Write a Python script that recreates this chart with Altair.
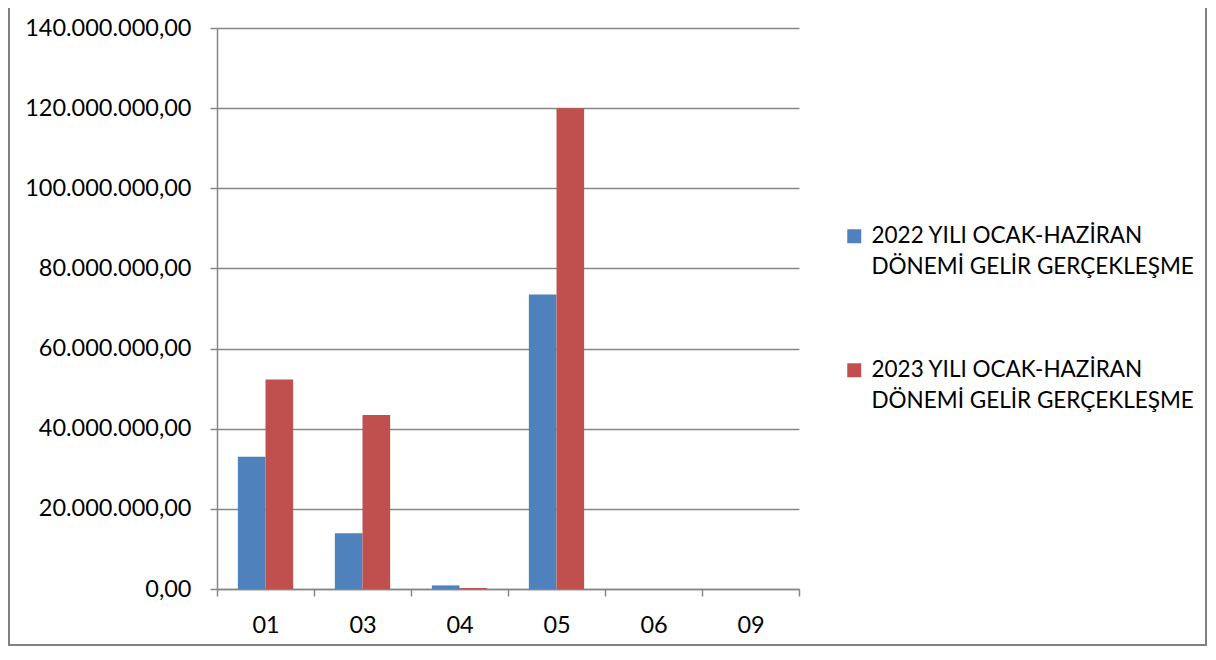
import altair as alt
import pandas as pd

categories = ["01", "03", "04", "05", "06", "09"]
series = ["2022 YILI OCAK-HAZİRAN|DÖNEMİ GELİR GERÇEKLEŞME",
          "2023 YILI OCAK-HAZİRAN|DÖNEMİ GELİR GERÇEKLEŞME"]
values_2022 = [33000000, 13900000, 900000, 73500000, 0, 0]
values_2023 = [52300000, 43400000, 250000, 120000000, 0, 0]
y_ticks = [0, 20000000, 40000000, 60000000, 80000000, 100000000, 120000000, 140000000]
colors = ["#4F81BD", "#C0504D"]

rows = []
for c, v1, v2 in zip(categories, values_2022, values_2023):
    rows.append({"kod": c, "seri": series[0], "deger": v1})
    rows.append({"kod": c, "seri": series[1], "deger": v2})
df = pd.DataFrame(rows)

FONT = "Lato"
GRAY = "#868686"

bars = alt.Chart(df).mark_bar().encode(
    x=alt.X("kod:N", sort=categories,
            scale=alt.Scale(paddingInner=0, paddingOuter=0),
            axis=alt.Axis(title=None, labelAngle=0, tickBand="extent",
                          domainColor=GRAY, domainWidth=1.5, tickColor=GRAY,
                          tickWidth=1.5, tickSize=7, labelPadding=17,
                          labelFont=FONT, labelFontSize=23.5, labelColor="#000000",
                          grid=False)),
    xOffset=alt.XOffset("seri:N", sort=series,
                        scale=alt.Scale(paddingInner=0, paddingOuter=0.754)),
    y=alt.Y("deger:Q",
            scale=alt.Scale(domain=[0, 140000000], nice=False, zero=True),
            axis=alt.Axis(title=None, values=y_ticks, format=",.2f",
                          domainColor=GRAY, domainWidth=1.5, tickColor=GRAY,
                          tickWidth=1.5, tickSize=7, labelPadding=19,
                          labelFont=FONT, labelFontSize=23.5, labelColor="#000000",
                          grid=True, gridColor=GRAY, gridWidth=1.5)),
    color=alt.Color("seri:N", sort=series,
                    scale=alt.Scale(domain=series, range=colors),
                    legend=alt.Legend(title=None, orient="none",
                                      legendX=626, legendY=197,
                                      symbolType="square", symbolSize=196,
                                      symbolStrokeWidth=0, symbolOpacity=1,
                                      labelExpr="split(datum.label, '|')",
                                      labelFont=FONT, labelFontSize=22.5,
                                      labelColor="#000000", labelLimit=0,
                                      labelOffset=6, rowPadding=80, padding=0)),
)

frame_df = pd.DataFrame({"f": [1]})
frame = alt.Chart(frame_df).mark_rect(
    fill=None, stroke="#808080", strokeWidth=2
).encode(
    x=alt.value(-208), x2=alt.value(989),
    y=alt.value(-40), y2=alt.value(617),
)

chart = alt.layer(bars, frame).properties(
    width=582, height=561,
    autosize=alt.AutoSizeParams(type="none"),
    padding={"left": 209, "top": 20, "right": 409, "bottom": 59},
).configure(
    view={"stroke": None},
    locale={"number": {"decimal": ",", "thousands": ".", "grouping": [3],
                       "currency": ["", ""]}},
    style={"guide-label": {"lineHeight": 31}},
)

chart.save("out.html", embed_options={"renderer": "svg", "actions": False})
